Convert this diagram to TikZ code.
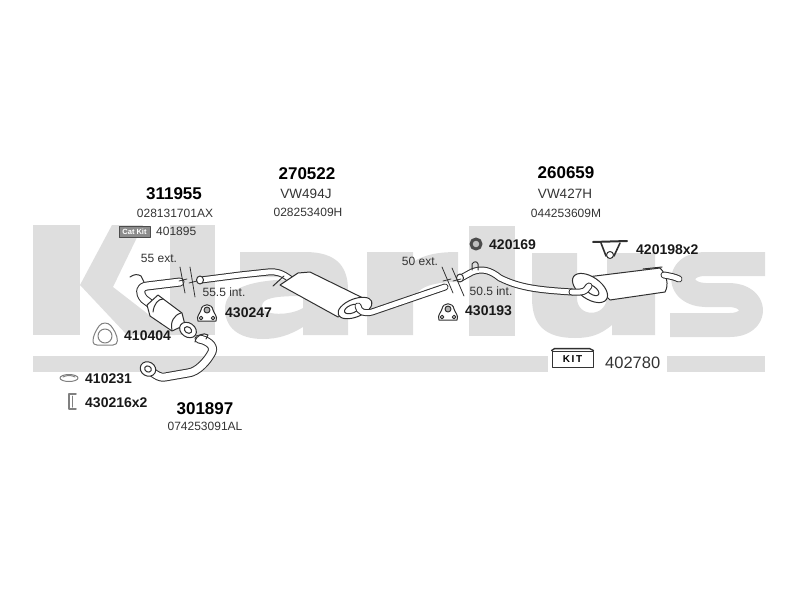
\documentclass[tikz,border=0pt]{standalone}
\usepackage{fontspec}
\setmainfont{Liberation Sans}
\definecolor{wmark}{HTML}{DEDEDE}
\definecolor{partline}{HTML}{303030}
\definecolor{oemtxt}{HTML}{333333}
\tikzset{
  partno/.style={inner sep=0pt,font=\fontsize{17}{17}\selectfont\bfseries},
  refno/.style={inner sep=0pt,font=\fontsize{14}{14}\selectfont\bfseries,text=black!90},
  oem/.style={inner sep=0pt,font=\fontsize{12}{12}\selectfont,text=oemtxt},
  lenlab/.style={inner sep=0pt,font=\fontsize{12}{12}\selectfont,text=oemtxt},
  tube/.style={draw=partline,line width=1pt,double=white,double distance=5pt},
  widetube/.style={draw=partline,line width=1pt,double=white,double distance=7pt},
  outline/.style={draw=partline,line width=1pt},
  thinpart/.style={draw=black!50,line width=1pt}
}
\begin{document}
\begin{tikzpicture}[line cap=round,line join=round,x=1pt,y=-1pt]
  \useasboundingbox (0,0) rectangle (800,600);
  \fill[wmark] (33,225) rectangle (80,335);
  \fill[wmark] (80,285) -- (112,225) -- (143,225) -- (113,287) -- (175,335) -- (127,335) -- cycle;
  \fill[wmark] (170,225) rectangle (215,335);
  \fill[wmark,even odd rule] (240,252) -- (305,252) .. controls (335,252) and (348,265) .. (348,290) -- (348,335) -- (303,335) -- (303,327) .. controls (290,335) and (278,339) .. (263,339) .. controls (238,339) and (225,327) .. (225,309) .. controls (225,290) and (245,279) .. (303,279) .. controls (303,272) and (298,277) .. (285,277) -- (240,277) -- cycle
    (303,296) .. controls (275,296) and (262,298) .. (262,306) .. controls (262,316) and (290,316) .. (303,308) -- cycle;
  \fill[wmark] (367,252) -- (413,252) -- (413,262) .. controls (425,254) and (440,252) .. (458,252) -- (458,282) .. controls (430,282) and (413,288) .. (413,305) -- (413,335) -- (367,335) -- cycle;
  \fill[wmark] (469,226) rectangle (515,336);
  \fill[wmark] (532,253) -- (577,253) -- (577,298) .. controls (577,318) and (607,318) .. (607,296) -- (607,253) -- (655,253) -- (655,335) -- (612,335) -- (612,325) .. controls (600,335) and (590,338) .. (575,338) .. controls (545,338) and (532,325) .. (532,298) -- cycle;
  \draw[wmark,line width=24pt,line cap=butt] (765,264) -- (705,264) .. controls (676,264) and (676,294) .. (705,295) -- (730,295) .. controls (758,296) and (758,325) .. (730,325) -- (670,325);
  \fill[wmark] (33,356) rectangle (548,372);
  \fill[wmark] (667,356) rectangle (765,372);

  \draw[outline] (130,277) .. controls (134,274) and (138,274) .. (141,276) -- (144,282);
  \draw[widetube] (180,282) -- (147,286) .. controls (139,287) and (139,293) .. (144,299) -- (152,305);
  \draw[outline,fill=white] (147,305) -- (158,295) -- (182,313) -- (185,325) -- (172,331) -- (150,316) -- cycle;
  \draw[outline] (153,312) .. controls (154,304) and (158,299) .. (163,299);
  \draw[outline] (172,330) .. controls (170,322) and (174,315) .. (181,313);
  \draw[outline,fill=white,rotate around={-35:(188,330)}] (188,330) ellipse (9 and 7);
  \draw[outline,fill=white,rotate around={-35:(188,330)}] (188,330) ellipse (4 and 3);
  \draw[widetube] (199,339) .. controls (206,340) and (215,345) .. (212,352) .. controls (208,360) and (198,372) .. (188,373) -- (165,377) .. controls (160,378) and (156,375) .. (152,372);
  \draw[outline] (195,342) .. controls (196,335) and (204,332) .. (208,335) -- (206,339);
  \draw[outline,fill=white,rotate around={-30:(148,369)}] (148,369) ellipse (8 and 7);
  \draw[outline,fill=white,rotate around={-30:(148,369)}] (148,369) ellipse (3.5 and 3);
  \draw[tube] (201,280) -- (240,275) -- (268,272) .. controls (276,271) and (282,273) .. (290,279);
  \draw[outline,fill=white] (200,280) ellipse (3.5 and 4);
  \draw[outline] (273,286) -- (284,276);
  \draw[outline,fill=white] (280,285) -- (298,273) -- (310,272) -- (363,298) -- (372,303) -- (338,317) -- cycle;
  \draw[outline,fill=white] (355,308) [rotate around={22:(355,308)}] ellipse (18 and 9);
  \draw[outline,fill=white] (352,309) [rotate around={22:(352,309)}] ellipse (8 and 4);
  \draw[tube] (358,306) .. controls (359,312) and (364,314) .. (372,312) -- (445,287);
  \draw[tube] (461,278) -- (472,272) .. controls (482,268) and (490,270) .. (500,278) .. controls (520,288) and (540,290) .. (572,292);
  \draw[outline,fill=white] (460,278) ellipse (3.5 and 4);
  \draw[outline] (472,270) -- (472,264) .. controls (474,261) and (477,261) .. (478,264) -- (478,270);

  \draw[outline,fill=white] (587,277) -- (660,268) .. controls (667,275) and (669,285) .. (665,292) -- (610,300) -- cycle;
  \draw[outline] (643,269) -- (662,267);
  \draw[tube] (664,275) .. controls (670,276) and (675,277) .. (679,279);
  \draw[outline,fill=white] (590,288) [rotate around={-35:(590,288)}] ellipse (20 and 11);
  \draw[outline,fill=white] (592,290) [rotate around={-35:(592,290)}] ellipse (8 and 4);
  \draw[tube] (572,292) -- (580,292) .. controls (585,292) and (587,289) .. (589,286);

  \foreach \xa/\ya/\xb/\yb in {180/267/185/293,190/267/195/297,442/267/453/293,452/268/464/296}
    \draw[draw=black!80,line width=0.8pt] (\xa,\ya) -- (\xb,\yb);
  \foreach \xa/\ya in {183/280,193/282,447/280,457/280}
    \draw[shift={(\xa,\ya)},draw=black!80,line width=0.8pt] (-4,1) -- (4,-1);

  \foreach \hx/\hy in {207/313,448/312}
    {
    \draw[shift={(\hx,\hy)},outline,fill=white] (-9,8) .. controls (-11,3) and (-7,1) .. (-6,-3) .. controls (-5,-10) and (5,-10) .. (6,-3) .. controls (7,1) and (11,3) .. (9,8) -- cycle;
    \draw[shift={(\hx,\hy)},outline,fill=black!30] (0,-3) circle (3);
    \draw[shift={(\hx,\hy)},outline,fill=white] (-6,5) circle (1.8);
    \draw[shift={(\hx,\hy)},outline,fill=white] (6,5) circle (1.8);
    }
  \draw[draw=black!70,line width=3pt,fill=black!25] (476,244) circle (5);
  \draw[outline,line width=2pt] (593,242) -- (627,241);
  \draw[outline,line width=1.6pt] (601,243) -- (606,256);
  \draw[outline,line width=1.6pt] (620,243) -- (614,256);
  \draw[outline,fill=white] (610,255) circle (3.5);
  \draw[thinpart,fill=white] (105,323) .. controls (110,323) and (112,327) .. (115,332) .. controls (118,338) and (119,345) .. (113,345) -- (97,345) .. controls (92,345) and (92,340) .. (95,333) .. controls (98,327) and (100,323) .. (105,323) -- cycle;
  \draw[thinpart,fill=white] (105,336) circle (7);
  \draw[thinpart,fill=white] (69,378) ellipse (9 and 3.5);
  \draw[thinpart] (63,377) .. controls (66,375) and (72,375) .. (75,377);
  \draw[thinpart,line width=1.5pt] (76,394) -- (69,394) -- (69,409) -- (76,409);
  \draw[thinpart] (72,396) -- (72,407);

  \node[partno] (n311955) at (174,194) {311955};
  \node[oem] (o311955) at (175,213) {028131701AX};
  \node[draw=black!70,fill=black!45,inner sep=1.5pt,minimum width=31pt,minimum height=11pt,font=\fontsize{7.5}{7.5}\selectfont\bfseries,text=white] (catkit) at (134.5,232) {Cat Kit};
  \node[oem,anchor=west] (n401895) at (156,231) {401895};
  \node[lenlab] (ext55) at (159,258) {55 ext.};
  \node[lenlab] (int55) at (224,292) {55.5 int.};
  \node[refno,anchor=west] (n430247) at (225,313) {430247};
  \node[refno,anchor=west] (n410404) at (124,336) {410404};
  \node[refno,anchor=west] (n410231) at (85,379) {410231};
  \node[refno,anchor=west] (n430216) at (85,403) {430216x2};
  \node[partno] (n301897) at (205,409) {301897};
  \node[oem] (o301897) at (205,426) {074253091AL};
  \node[partno] (n270522) at (307,174) {270522};
  \node[oem,font=\fontsize{13.5}{13.5}\selectfont] (v270522) at (306,194) {VW494J};
  \node[oem] (o270522) at (308,212) {028253409H};
  \node[partno] (n260659) at (566,173) {260659};
  \node[oem,font=\fontsize{13.5}{13.5}\selectfont] (v260659) at (565,194) {VW427H};
  \node[oem] (o260659) at (566,213) {044253609M};
  \node[refno,anchor=west] (n420169) at (489,245) {420169};
  \node[refno,anchor=west] (n420198) at (636,250) {420198x2};
  \node[lenlab] (ext50) at (420,261) {50 ext.};
  \node[lenlab] (int50) at (491,291) {50.5 int.};
  \node[refno,anchor=west] (n430193) at (465,311) {430193};
  \node[draw=black!80,fill=white,line width=0.9pt,minimum width=41pt,minimum height=16pt,inner sep=0pt,font=\fontsize{10}{10}\selectfont\bfseries] (kitbox) at (572.5,359) {K\,I\,T};
  \draw[outline,line width=1.4pt] (kitbox.north west) -- ++(3,-2) -- ++(35,0) -- (kitbox.north east);
  \node[inner sep=0pt,anchor=west,font=\fontsize{16.5}{16.5}\selectfont,text=oemtxt] (n402780) at (605,363) {402780};
\end{tikzpicture}
\end{document}
